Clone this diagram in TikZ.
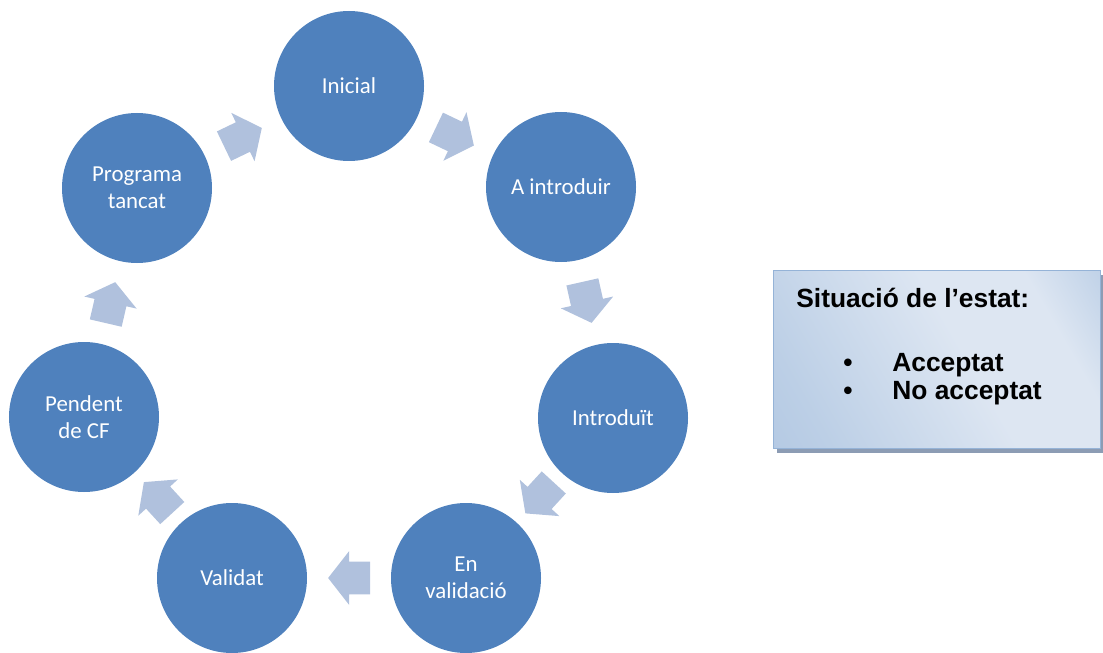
\documentclass[tikz,border=0pt]{standalone}
\usepackage{fontspec}
\setmainfont{Carlito}
\newfontfamily\arialfont{Liberation Sans}
\usepackage[HTML]{xcolor}
\usetikzlibrary{positioning, shapes.arrows, shadows}

\definecolor{cercleblau}{HTML}{4F81BD}
\definecolor{fletxablau}{HTML}{B0C1DD}
\definecolor{caixavora}{HTML}{95B3D7}
\definecolor{caixaclar}{HTML}{DDE6F2}
\definecolor{caixamig}{HTML}{BCCFE6}
\definecolor{caixabaix}{HTML}{A9C1DF}
\definecolor{ombra}{HTML}{8C9CB4}

\pgfdeclareverticalshading{caixaombrejat}{100bp}{color(0bp)=(caixabaix); color(25bp)=(caixamig);
  color(55bp)=(caixaclar); color(72bp)=(caixaclar); color(86bp)=(caixamig); color(100bp)=(caixavora)}

\begin{document}
\begin{tikzpicture}[
  estat/.style={circle, fill=cercleblau, minimum size=3cm, inner sep=0pt,
    text=white, align=center, font=\fontsize{13}{15.6}\selectfont},
  fletxa/.style={single arrow, fill=fletxablau, minimum height=0.84cm,
    inner xsep=0pt, inner ysep=0.32cm, single arrow head extend=0.21cm,
    single arrow tip angle=104, midway, sloped, allow upside down, xshift=-0.13cm},
  caixatext/.style={anchor=base west, inner sep=0pt,
    font=\arialfont\bfseries\fontsize{15}{18}\selectfont}
]
\useasboundingbox (0,0) rectangle (22.06,13.04);
\clip (0,0) rectangle (22.06,13.04);

% cicle d'estats
\node[estat] (ini)   at (6.98,11.32) {Inicial};
\node[estat] (aint)  at (11.22,9.30) {A introduir};
\node[estat] (intr)  at (12.26,4.68) {Introduït};
\node[estat] (enval) at (9.32,1.48)  {En\\validació};
\node[estat] (valid) at (4.64,1.48)  {Validat};
\node[estat] (pend)  at (1.68,4.70)  {Pendent\\de CF};
\node[estat] (prog)  at (2.74,9.28)  {Programa\\tancat};

% fletxes
\path (ini) -- (aint) node[fletxa] (f1) {};
\path (aint) -- (intr) node[fletxa] (f2) {};
\path (intr) -- (enval) node[fletxa] (f3) {};
\path (enval) -- (valid) node[fletxa] (f4) {};
\path (valid) -- (pend) node[fletxa] (f5) {};
\path (pend) -- (prog) node[fletxa] (f6) {};
\path (prog) -- (ini) node[fletxa] (f7) {};

% situacio de l'estat
\node[anchor=north west, draw=caixavora, line width=0.6pt,
  minimum width=6.54cm, minimum height=3.56cm,
  shading=caixaombrejat, shading angle=-60,
  drop shadow={shadow xshift=0.06cm, shadow yshift=-0.09cm, fill=ombra, opacity=1}]
  (situacio) at (15.46,7.64) {};
\node[caixatext] (titol) at (15.92,6.90) {Situació de l’estat:};
\node[caixatext, anchor=base] (punt1) at (16.96,5.62) {\textbullet};
\node[caixatext] (acc) at (17.84,5.62) {Acceptat};
\node[caixatext, anchor=base] (punt2) at (16.96,5.06) {\textbullet};
\node[caixatext] (noacc) at (17.84,5.06) {No acceptat};
\end{tikzpicture}
\end{document}
